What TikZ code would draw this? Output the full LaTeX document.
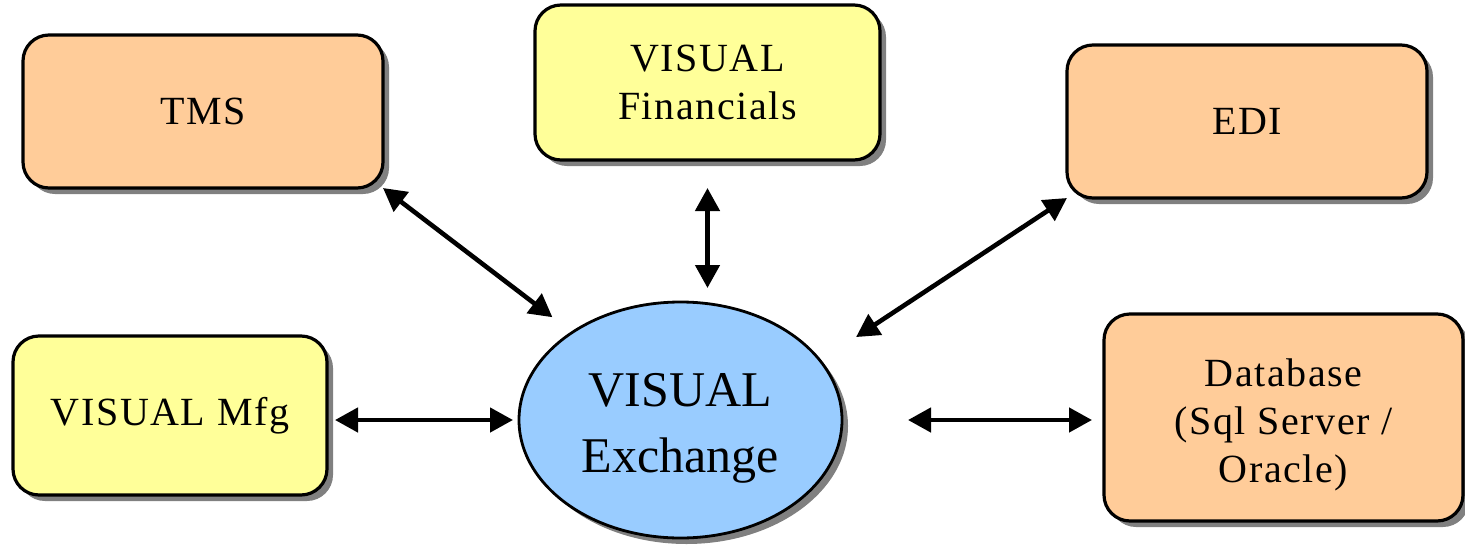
\documentclass[tikz,border=0pt]{standalone}
\usepackage{fontspec}
\setmainfont{Liberation Serif}
\usetikzlibrary{shadows,arrows.meta,calc,shapes.geometric}
\definecolor{boxorange}{HTML}{FFCC99}
\definecolor{boxyellow}{HTML}{FFFF99}
\definecolor{exblue}{HTML}{99CCFF}
\definecolor{shadowgray}{HTML}{808080}
\tikzset{
  sysbox/.style={draw=black, line width=3.2pt, rectangle, rounded corners=26pt,
    outer sep=0pt, align=center,
    font=\fontsize{40}{48}\selectfont\addfontfeature{LetterSpace=4},
    drop shadow={shadow xshift=6pt, shadow yshift=-6pt, fill=shadowgray, opacity=1}},
  orangebox/.style={sysbox, fill=boxorange},
  yellowbox/.style={sysbox, fill=boxyellow},
  hub/.style={draw=black, line width=2.8pt, ellipse, fill=exblue, outer sep=0pt,
    align=center, font=\fontsize{50}{66}\selectfont, inner sep=0pt,
    drop shadow={shadow xshift=6pt, shadow yshift=-6pt, fill=shadowgray, opacity=1}},
  link/.style={line width=4.6pt, {Triangle[length=23pt,width=24pt]}-{Triangle[length=23pt,width=24pt]}}
}
\begin{document}
\begin{tikzpicture}[x=1pt,y=-1pt]
\useasboundingbox (0,0) rectangle (1465,544);
\node[orangebox, minimum width=360pt, minimum height=153pt] (tms) at (203,111.5) {TMS};
\node[yellowbox, minimum width=345pt, minimum height=155pt] (fin) at (707.5,82.5) {VISUAL\\Financials};
\node[orangebox, minimum width=360pt, minimum height=153pt] (edi) at (1247,121.5) {EDI};
\node[yellowbox, minimum width=314pt, minimum height=159pt] (mfg) at (170,415.5) {VISUAL Mfg};
\node[orangebox, minimum width=359pt, minimum height=207pt, text height=139pt, text depth=10pt] (db) at (1283.5,417.5) {Database\\(Sql Server /\\Oracle)};
\node[hub, minimum width=323pt, minimum height=236pt, text height=116pt, text depth=12pt] (ex) at (680.5,420) {VISUAL\\Exchange};

\draw[link, shorten >=25pt] (tms.south east) -- (ex.141.5);
\draw[link, shorten <=28pt, shorten >=14pt] (fin.south) -- (fin.south |- ex.north);
\draw[link, shorten >=43pt] (edi.south west) -- (ex.23);
\draw[link, shorten <=8pt, shorten >=6pt] (mfg.east |- ex.west) -- (ex.west);
\draw[link, shorten <=66pt, shorten >=12pt] (ex.east) -- (ex.east -| db.west);
\end{tikzpicture}
\end{document}
